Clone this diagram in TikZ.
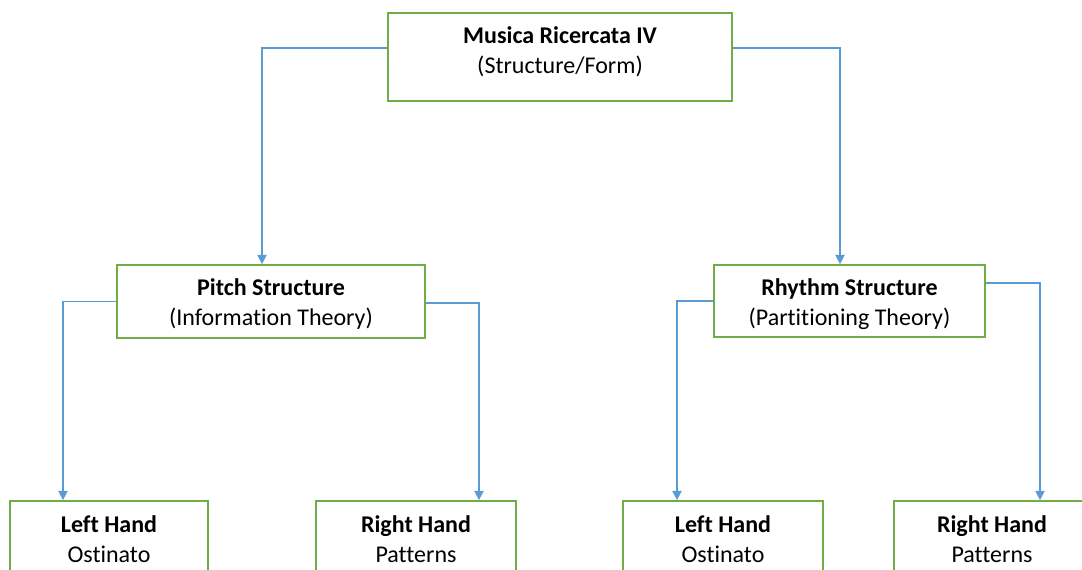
\documentclass[tikz,border=0pt]{standalone}
\usepackage{fontspec}
\setmainfont{Carlito}[Ligatures=NoCommon]
\usetikzlibrary{arrows.meta,calc}
\definecolor{boxgreen}{RGB}{112,173,71}
\definecolor{lineblue}{RGB}{91,155,213}
\begin{document}
\begin{tikzpicture}[x=0.75pt,y=-0.75pt,
  box/.style={draw=boxgreen,line width=1.3pt,fill=white,rectangle,inner sep=0pt},
  txt/.style={align=center,font=\fontsize{18}{22.5}\selectfont,inner sep=0pt},
  conn/.style={draw=lineblue,line width=1.1pt,-{Triangle[width=7pt,length=7pt]}}]
\useasboundingbox (0,0) rectangle (1082,569);
\clip (0,0) rectangle (1082,569);
% boxes
\node[box,minimum width=258pt,minimum height=66pt] (top) at (560,57) {};
\node[box,minimum width=231pt,minimum height=54.75pt] (pitch) at (271,301.5) {};
\node[box,minimum width=203.25pt,minimum height=54pt] (rhythm) at (849.5,301) {};
\node[box,minimum width=148.5pt,minimum height=75pt] (lh1) at (109,551) {};
\node[box,minimum width=150pt,minimum height=75pt] (rh1) at (416,551) {};
\node[box,minimum width=150pt,minimum height=75pt] (lh2) at (723,551) {};
\node[box,minimum width=150pt,minimum height=75pt] (rh2) at (994,551) {};
% texts
\node[txt] (toptxt) at (560,51.5) {\textbf{Musica Ricercata IV}\\(Structure/Form)};
\node[txt] (pitchtxt) at (271,304) {\textbf{Pitch Structure}\\(Information Theory)};
\node[txt] (rhythmtxt) at (849.5,304) {\textbf{Rhythm Structure}\\(Partitioning Theory)};
\node[txt] (lh1txt) at (109,539) {\textbf{Left Hand}\\Ostinato};
\node[txt] (rh1txt) at (416,539) {\textbf{Right Hand}\\Patterns};
\node[txt] (lh2txt) at (723,539) {\textbf{Left Hand}\\Ostinato};
\node[txt] (rh2txt) at (992,539) {\textbf{Right Hand}\\Patterns};
% connectors
\draw[conn] ($(top.west)+(0,-9)$) -| ($(pitch.north)+(-9,0)$);
\draw[conn] ($(top.east)+(0,-9)$) -| ($(rhythm.north)+(-9.5,0)$);
\draw[conn] (pitch.west) -| ($(lh1.north)+(-46,0)$);
\draw[conn] ($(pitch.east)+(0,1.5)$) -| ($(rh1.north)+(63,0)$);
\draw[conn] (rhythm.west) -| ($(lh2.north)+(-46,0)$);
\draw[conn] ($(rhythm.east)+(0,-18)$) -| ($(rh2.north)+(46,0)$);
\end{tikzpicture}
\end{document}
